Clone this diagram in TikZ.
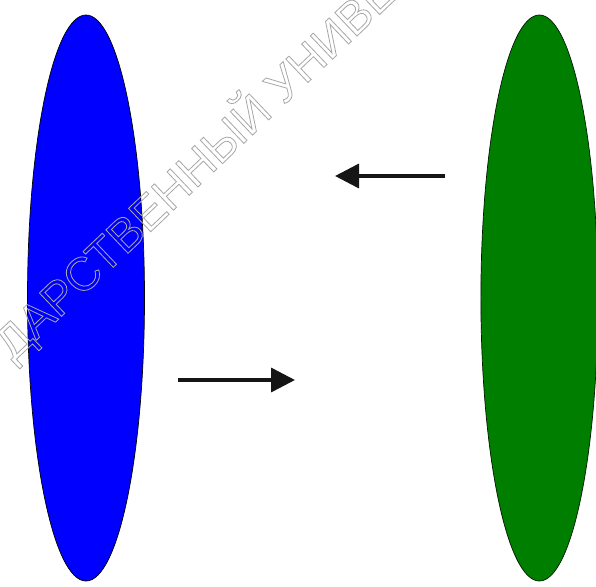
\documentclass[tikz,border=0pt]{standalone}
\usepackage{fontspec}
\usepackage{tikz}
\usetikzlibrary{arrows.meta, positioning, shapes.geometric}
\newfontfamily\markfont{Liberation Sans}
\definecolor{PureBlue}{HTML}{0000FF}
\definecolor{LeafGreen}{HTML}{007E00}
\definecolor{MarkGray}{HTML}{A8A8A8}
\definecolor{ArrowBlack}{HTML}{151515}
\tikzset{
  lens/.style={ellipse, draw=black, line width=0.6pt, inner sep=0pt, minimum width=3.51cm, minimum height=16.98cm},
  bluelens/.style={lens, fill=PureBlue},
  greenlens/.style={lens, fill=LeafGreen, draw=black!80!LeafGreen},
  arrow/.style={-{Triangle[length=0.72cm, width=0.72cm]}, line width=3pt, draw=ArrowBlack},
  stamp/.style={text=MarkGray, font=\markfont\fontsize{40}{40}\selectfont, inner sep=0pt}
}
\begin{document}
\begin{tikzpicture}[x=0.03cm, y=-0.03cm]
\useasboundingbox (0,0) rectangle (596,586);
% two bodies
\node[bluelens] (blue) at (86,298) {};
\node[greenlens, right=10.07cm of blue] (green) {};
% arrows
\coordinate (topstart) at (445,176);
\coordinate (topend) at (335,176);
\coordinate (lowstart) at (178,380);
\coordinate (lowend) at (295,380);
\draw[arrow] (topstart) -- (topend);
\draw[arrow] (lowstart) -- (lowend);
% watermark
\node[stamp, rotate=43.5] (mark) at (195,167) {\special{pdf:literal 1 Tr 0.7 w}ДАРСТВЕННЫЙ УНИВЕ};
\end{tikzpicture}
\end{document}
